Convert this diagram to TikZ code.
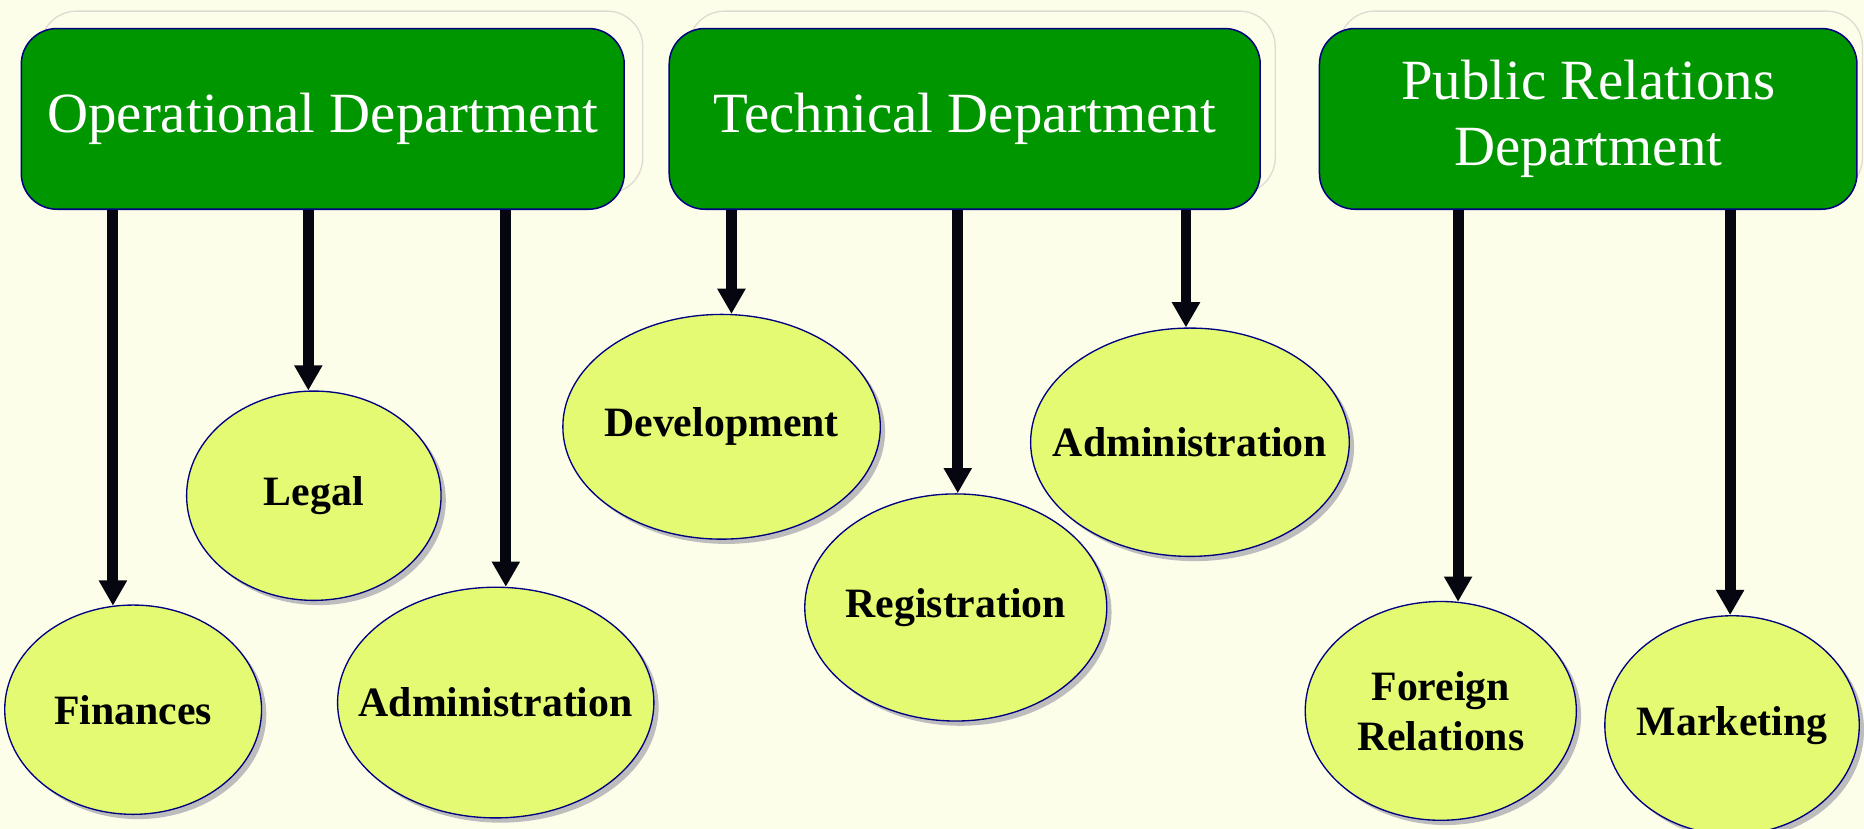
\documentclass[tikz,border=0pt]{standalone}
\usepackage{fontspec}
\setmainfont{Liberation Serif}
\usetikzlibrary{arrows.meta,shapes.geometric,shadows,backgrounds}
\definecolor{bgcream}{HTML}{FDFEEA}
\definecolor{deptgreen}{HTML}{009600}
\definecolor{navyline}{HTML}{000080}
\definecolor{unitlime}{HTML}{E4FA72}
\definecolor{shadowgray}{HTML}{BDBDBD}
\definecolor{arrowink}{HTML}{05060F}
\definecolor{backgray}{HTML}{DCDCD2}
\begin{document}
\begin{tikzpicture}[x=0.025cm, y=-0.025cm,
    dept/.style={draw=navyline, line width=0.9pt, fill=deptgreen, rounded corners=0.75cm,
        text=white, font=\fontsize{34}{40}\selectfont, align=center, minimum height=3.8cm},
    unit/.style={ellipse, draw=navyline, line width=0.8pt, fill=unitlime, inner sep=-1.2cm,
        font=\bfseries\fontsize{25}{30}\selectfont, align=center,
        drop shadow={shadow xshift=0.1cm, shadow yshift=-0.1cm, fill=shadowgray, opacity=1}},
    arr/.style={line width=0.23cm, draw=arrowink, -{Triangle[width=0.56cm,length=0.53cm]}},
    backbox/.style={draw=backgray, line width=0.8pt, rounded corners=0.75cm}]
    \useasboundingbox (0,0) rectangle (1568,697);

    % departments
    \node (op) [dept, minimum width=12.675cm] at (271.5,100) {Operational Department};
    \node (tech) [dept, minimum width=12.425cm] at (811.5,100) {Technical Department};
    \node (pr) [dept, minimum width=11.3cm] at (1336,100) {Public Relations\\Department};

    % units
    \node (fin) [unit, minimum width=5.4cm, minimum height=4.4cm] at (112,597) {Finances};
    \node (legal) [unit, minimum width=5.35cm, minimum height=4.4cm] at (264,417) {Legal};
    \node (adm) [unit, minimum width=6.65cm, minimum height=4.85cm] at (417,591) {Administration};
    \node (dev) [unit, minimum width=6.675cm, minimum height=4.725cm] at (607,359) {Development};
    \node (reg) [unit, minimum width=6.35cm, minimum height=4.775cm] at (804,511) {Registration};
    \node (tadm) [unit, minimum width=6.7cm, minimum height=4.8cm] at (1001,372) {Administration};
    \node (forrel) [unit, minimum width=5.7cm, minimum height=4.6cm] at (1212,598) {Foreign\\Relations};
    \node (mkt) [unit, minimum width=5.35cm, minimum height=4.6cm] at (1457,610) {Marketing};

    \begin{pgfonlayer}{background}
        \fill[bgcream] (0,0) rectangle (1568,697);
        \draw[backbox] ([shift={(17,-14)}]op.north west) rectangle ([shift={(15,-14)}]op.south east);
        \draw[backbox] ([shift={(17,-14)}]tech.north west) rectangle ([shift={(12,-14)}]tech.south east);
        \draw[backbox] ([shift={(17,-14)}]pr.north west) rectangle ([shift={(4,-14)}]pr.south east);
    \end{pgfonlayer}

    \draw[arr] (fin.101 |- op.south) -- (fin.101);
    \draw[arr] (legal.93 |- op.south) -- (legal.93);
    \draw[arr] (adm.85 |- op.south) -- (adm.85);
    \draw[arr] (dev.85 |- tech.south) -- (dev.85);
    \draw[arr] (reg.89 |- tech.south) -- (reg.89);
    \draw[arr] (tadm.92 |- tech.south) -- (tadm.92);
    \draw[arr] (forrel.81 |- pr.south) -- (forrel.81);
    \draw[arr] (mkt.91 |- pr.south) -- (mkt.91);
\end{tikzpicture}
\end{document}
